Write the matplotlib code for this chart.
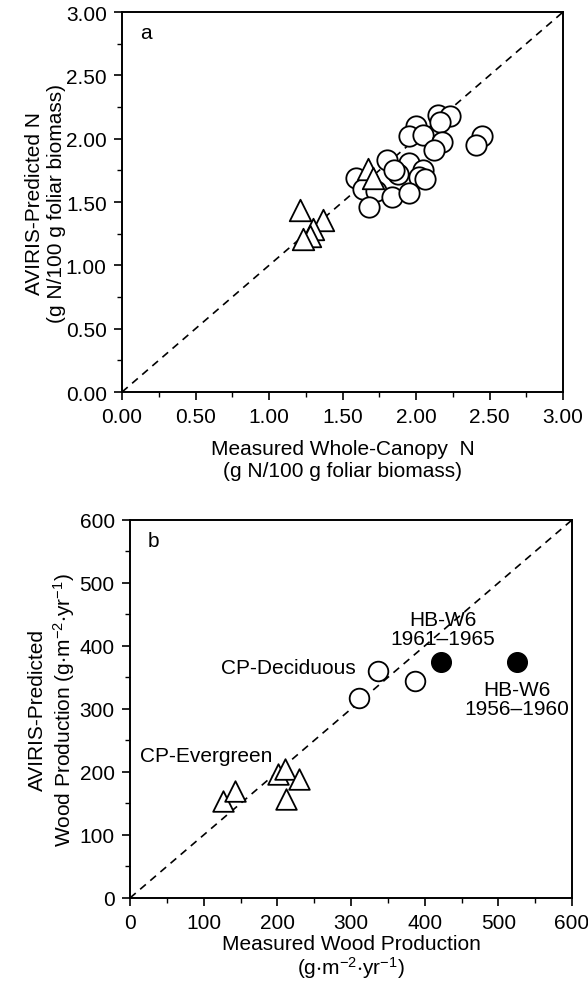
import numpy as np
import matplotlib
matplotlib.use("Agg")
import matplotlib.pyplot as plt
from matplotlib.ticker import MultipleLocator, FormatStrFormatter

plt.rcParams['font.family'] = ['Liberation Sans', 'DejaVu Sans']
plt.rcParams['mathtext.fontset'] = 'custom'
plt.rcParams['mathtext.rm'] = 'Liberation Sans'
plt.rcParams['mathtext.it'] = 'Liberation Sans:italic'
plt.rcParams['mathtext.default'] = 'regular'

# panel a: canopy N (measured vs AVIRIS-predicted)
a_circ_x = [2.15, 2.23, 2.16, 2.45, 2.41, 2.00, 1.95, 2.05, 2.18, 2.12, 1.80, 1.95,
            2.05, 1.88, 2.02, 1.59, 1.64, 1.73, 1.84, 1.95, 1.68, 2.06, 1.85]
a_circ_y = [2.19, 2.18, 2.13, 2.02, 1.95, 2.10, 2.02, 2.03, 1.97, 1.91, 1.83, 1.81,
            1.75, 1.72, 1.70, 1.69, 1.60, 1.59, 1.54, 1.57, 1.46, 1.68, 1.75]
a_tri_x = [1.67, 1.71, 1.21, 1.37, 1.30, 1.28, 1.23]
a_tri_y = [1.76, 1.69, 1.44, 1.36, 1.29, 1.23, 1.21]

# panel b: wood production
b_tri_x = [126, 143, 201, 210, 229, 212]
b_tri_y = [154, 170, 197, 205, 189, 157]
b_circ_x = [336, 311, 387]
b_circ_y = [361, 318, 345]
b_hb_x = [422, 525]
b_hb_y = [374, 374]

fs = 15
fig = plt.figure(figsize=(5.88, 9.87), dpi=100)
axa = fig.add_axes([0.2075, 0.6018, 0.75, 0.385])
axb = fig.add_axes([0.2211, 0.0892, 0.7517, 0.383])

mk = dict(facecolor='white', edgecolor='black', linewidths=1.3, zorder=3)

# ---- panel a
axa.plot([0, 3], [0, 3], ls=(0, (4.5, 3.5)), color='black', lw=1.2, zorder=1)
axa.scatter(a_circ_x, a_circ_y, s=215, marker='o', **mk)
axa.scatter(a_tri_x, a_tri_y, s=240, marker='^', **mk)
axa.set_xlim(0, 3)
axa.set_ylim(0, 3)
axa.xaxis.set_major_locator(MultipleLocator(0.5))
axa.yaxis.set_major_locator(MultipleLocator(0.5))
axa.xaxis.set_minor_locator(MultipleLocator(0.25))
axa.yaxis.set_minor_locator(MultipleLocator(0.25))
axa.xaxis.set_major_formatter(FormatStrFormatter('%.2f'))
axa.yaxis.set_major_formatter(FormatStrFormatter('%.2f'))
axa.set_xlabel('Measured Whole-Canopy  N\n(g N/100 g foliar biomass)', fontsize=fs, labelpad=9)
axa.set_ylabel('AVIRIS-Predicted N\n(g N/100 g foliar biomass)', fontsize=fs, labelpad=0)
axa.text(0.04, 0.945, 'a', transform=axa.transAxes, fontsize=fs, va='center')

# ---- panel b
axb.plot([0, 600], [0, 600], ls=(0, (4.5, 3.5)), color='black', lw=1.2, zorder=1)
axb.scatter(b_tri_x, b_tri_y, s=220, marker='^', **mk)
axb.scatter(b_circ_x, b_circ_y, s=200, marker='o', **mk)
axb.scatter(b_hb_x, b_hb_y, s=200, marker='o', facecolor='black', edgecolor='black', zorder=3)
axb.set_xlim(0, 600)
axb.set_ylim(0, 600)
axb.xaxis.set_major_locator(MultipleLocator(100))
axb.yaxis.set_major_locator(MultipleLocator(100))
axb.xaxis.set_minor_locator(MultipleLocator(50))
axb.yaxis.set_minor_locator(MultipleLocator(50))
axb.set_xlabel('Measured Wood Production\n(g$\\cdot$m$^{-2}$$\\cdot$yr$^{-1}$)', fontsize=fs,
               labelpad=1, linespacing=1.1)
axb.set_ylabel('AVIRIS-Predicted\nWood Production (g$\\cdot$m$^{-2}$$\\cdot$yr$^{-1}$)', fontsize=fs, labelpad=2)
axb.text(0.04, 0.945, 'b', transform=axb.transAxes, fontsize=fs, va='center')
axb.text(193, 226, 'CP-Evergreen', fontsize=fs, ha='right', va='center')
axb.text(307, 366, 'CP-Deciduous', fontsize=fs, ha='right', va='center')
axb.text(425, 427, 'HB-W6\n1961\u20131965', fontsize=fs, ha='center', va='center', linespacing=1.0)
axb.text(525, 315, 'HB-W6\n1956\u20131960', fontsize=fs, ha='center', va='center', linespacing=1.0)

for ax in (axa, axb):
    for sp in ax.spines.values():
        sp.set_linewidth(1.4)
    ax.tick_params(which='major', direction='out', length=6, width=1.2, labelsize=fs, pad=5)
    ax.tick_params(which='minor', direction='out', length=3.5, width=1.0)

fig.savefig('out.png', dpi=100)
